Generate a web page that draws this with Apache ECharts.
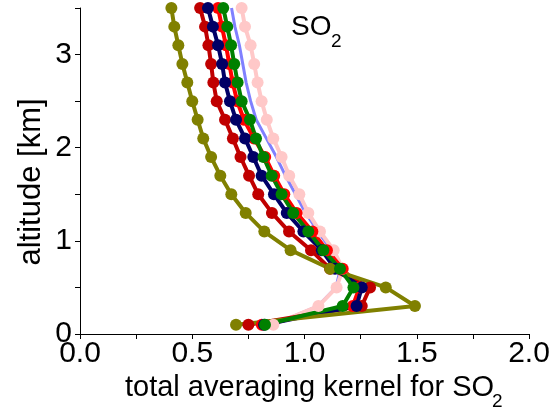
<!DOCTYPE html>
<html><head><meta charset="utf-8">
<script src="https://cdn.jsdelivr.net/npm/echarts@6/dist/echarts.min.js"></script>
<style>html,body{margin:0;padding:0;background:#fff}#c{width:556px;height:413px}</style>
</head><body><div id="c"></div>
<script>
const altitudes = [0.1,0.3,0.5,0.7,0.9,1.1,1.3,1.5,1.7,1.9,2.1,2.3,2.5,2.7,2.9,3.1,3.3,3.5];
const blueVals    = [0.86,1.06,1.14,1.16,1.12,1.06,1.005,0.96,0.915,0.875,0.83,0.785,0.76,0.74,0.725,0.71,0.69,0.675];
const pinkVals    = [0.861,1.062,1.143,1.17,1.13,1.069,1.017,0.977,0.932,0.898,0.861,0.832,0.809,0.791,0.776,0.76,0.735,0.72];
const redVals     = [0.81,1.215,1.245,1.17,1.10,1.035,0.965,0.91,0.865,0.825,0.775,0.73,0.70,0.68,0.665,0.65,0.632,0.615];
const darkRedVals = [0.75,1.255,1.292,1.114,1.029,0.931,0.855,0.794,0.753,0.715,0.681,0.646,0.609,0.594,0.584,0.572,0.557,0.535];
const navyVals    = [0.82,1.232,1.255,1.136,1.077,0.995,0.921,0.864,0.809,0.772,0.735,0.695,0.668,0.646,0.633,0.615,0.592,0.570];
const oliveVals   = [0.695,1.492,1.362,1.114,0.938,0.821,0.738,0.674,0.625,0.584,0.549,0.524,0.500,0.478,0.456,0.438,0.420,0.407];
const greenVals   = [0.824,1.17,1.218,1.158,1.084,1.017,0.950,0.898,0.854,0.817,0.784,0.757,0.720,0.702,0.687,0.673,0.656,0.638];
const xTickLabels = ['0.0','0.5','1.0','1.5','2.0'];
const yTickLabels = ['0','1','2','3'];

function pairs(vals){ return vals.map((v,i)=>[v, altitudes[i]]); }
function ser(name, vals, color, lw, sym){
  return {name, type:'line', data:pairs(vals), clip:true,
    lineStyle:{color, width:lw}, itemStyle:{color},
    symbol: sym ? 'circle' : 'none', symbolSize: 12, showSymbol: !!sym,
    emphasis:{disabled:true}, animation:false};
}
const F = 'Liberation Sans, Arial, sans-serif';
const chart = echarts.init(document.getElementById('c'), null, {renderer:'canvas'});
chart.setOption({
  animation:false,
  grid:{left:80, right:27, top:8, bottom:79, containLabel:false},
  xAxis:{type:'value', min:0, max:2, interval:0.25,
    axisLine:{onZero:false, lineStyle:{color:'#000', width:1}},
    axisTick:{length:5, lineStyle:{color:'#000'}},
    splitLine:{show:false},
    axisLabel:{color:'#000', fontFamily:F, fontSize:30, margin:5,
      formatter:v=>{const k=Math.round(v*2); return Math.abs(v*2-k)<1e-6 ? xTickLabels[k] : '';}}
  },
  yAxis:{type:'value', min:0, max:3.5, interval:0.5,
    axisLine:{onZero:false, lineStyle:{color:'#000', width:1}},
    axisTick:{length:5, lineStyle:{color:'#000'}},
    splitLine:{show:false},
    axisLabel:{color:'#000', fontFamily:F, fontSize:30, margin:8,
      formatter:v=>{const k=Math.round(v); return Math.abs(v-k)<1e-6 && yTickLabels[k]!==undefined ? yTickLabels[k] : '';}}
  },
  graphic:[
    {type:'text', x:291, y:27, style:{text:'SO', font:'28px '+F, fill:'#000', verticalAlign:'middle'}},
    {type:'text', x:331, y:42, style:{text:'2', font:'19px '+F, fill:'#000', verticalAlign:'middle'}},
    {type:'text', x:31, y:182, rotation:Math.PI/2, style:{text:'altitude [km]', font:'31px '+F, fill:'#000', align:'center', verticalAlign:'middle'}},
    {type:'text', x:125, y:388, style:{text:'total averaging kernel for SO', font:'29px '+F, fill:'#000', verticalAlign:'middle'}},
    {type:'text', x:492, y:402, style:{text:'2', font:'19px '+F, fill:'#000', verticalAlign:'middle'}}
  ],
  series:[
    ser('blue', blueVals, '#8080ff', 3, false),
    ser('pink', pinkVals, '#ffc8c8', 4, true),
    ser('red', redVals, '#ff0000', 4, true),
    ser('darkred', darkRedVals, '#c00000', 4, true),
    ser('navy', navyVals, '#000066', 4, true),
    ser('olive', oliveVals, '#808000', 4, true),
    ser('green', greenVals, '#008000', 4, true)
  ]
});
</script></body></html>
